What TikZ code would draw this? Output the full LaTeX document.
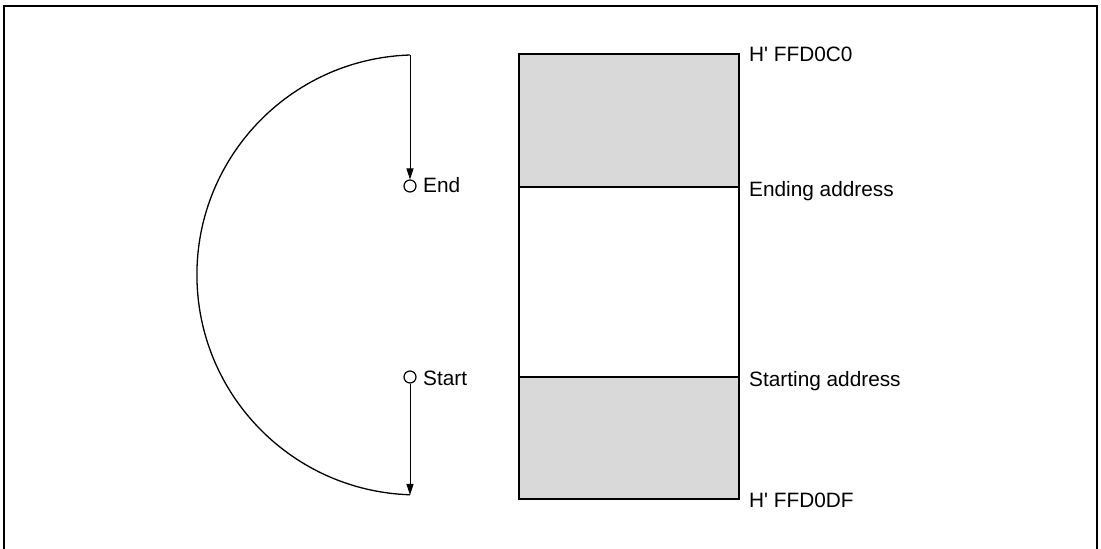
\documentclass[tikz,border=0pt]{standalone}
\usepackage{fontspec}
\setmainfont{Liberation Sans}[Ligatures=TeXOff]
\usetikzlibrary{arrows.meta,positioning}
\tikzset{
memblock/.style={draw,line width=1.3pt,minimum width=220pt,inner sep=0pt,outer sep=0pt},
addr/.style={anchor=base west,inner sep=0pt,font=\fontsize{20.8}{25}\selectfont},
pin/.style={draw,circle,line width=1.2pt,minimum size=12pt,inner sep=0pt,fill=white},
flow/.style={-{Triangle[length=11pt,width=7pt]},line width=0.9pt}
}
\begin{document}
\begin{tikzpicture}[x=1pt,y=1pt]
\useasboundingbox (0,0) rectangle (1101,549);
\draw[line width=2pt] (4,-2) -- (4,543) -- (1097,543) -- (1097,-2);
% memory area
\node[memblock,fill=black!15,minimum height=133pt,anchor=north west](upper) at (519,495){};
\node[memblock,minimum height=190pt,below=0pt of upper](middle){};
\node[memblock,fill=black!15,minimum height=122pt,below=0pt of middle](lower){};
\node[addr](topaddr) at (749,487){H' FFD0C0};
\node[addr](endaddr) at (749,352){Ending address};
\node[addr](startaddr) at (749,162){Starting address};
\node[addr](botaddr) at (749,41){H' FFD0DF};
% transfer loop
\coordinate (arctop) at (410,494);
\coordinate (arcbot) at (410,54);
\node[pin](endpin) at (410,363){};
\node[pin](startpin) at (410,172){};
\node[addr](endlbl) at (423,356){End};
\node[addr](startlbl) at (423,163){Start};
\draw[line width=1.3pt](arctop) arc[start angle=91.8,end angle=268.2,radius=220];
\draw[flow](arctop)--(endpin);
\draw[flow](startpin)--(arcbot);
\end{tikzpicture}
\end{document}
